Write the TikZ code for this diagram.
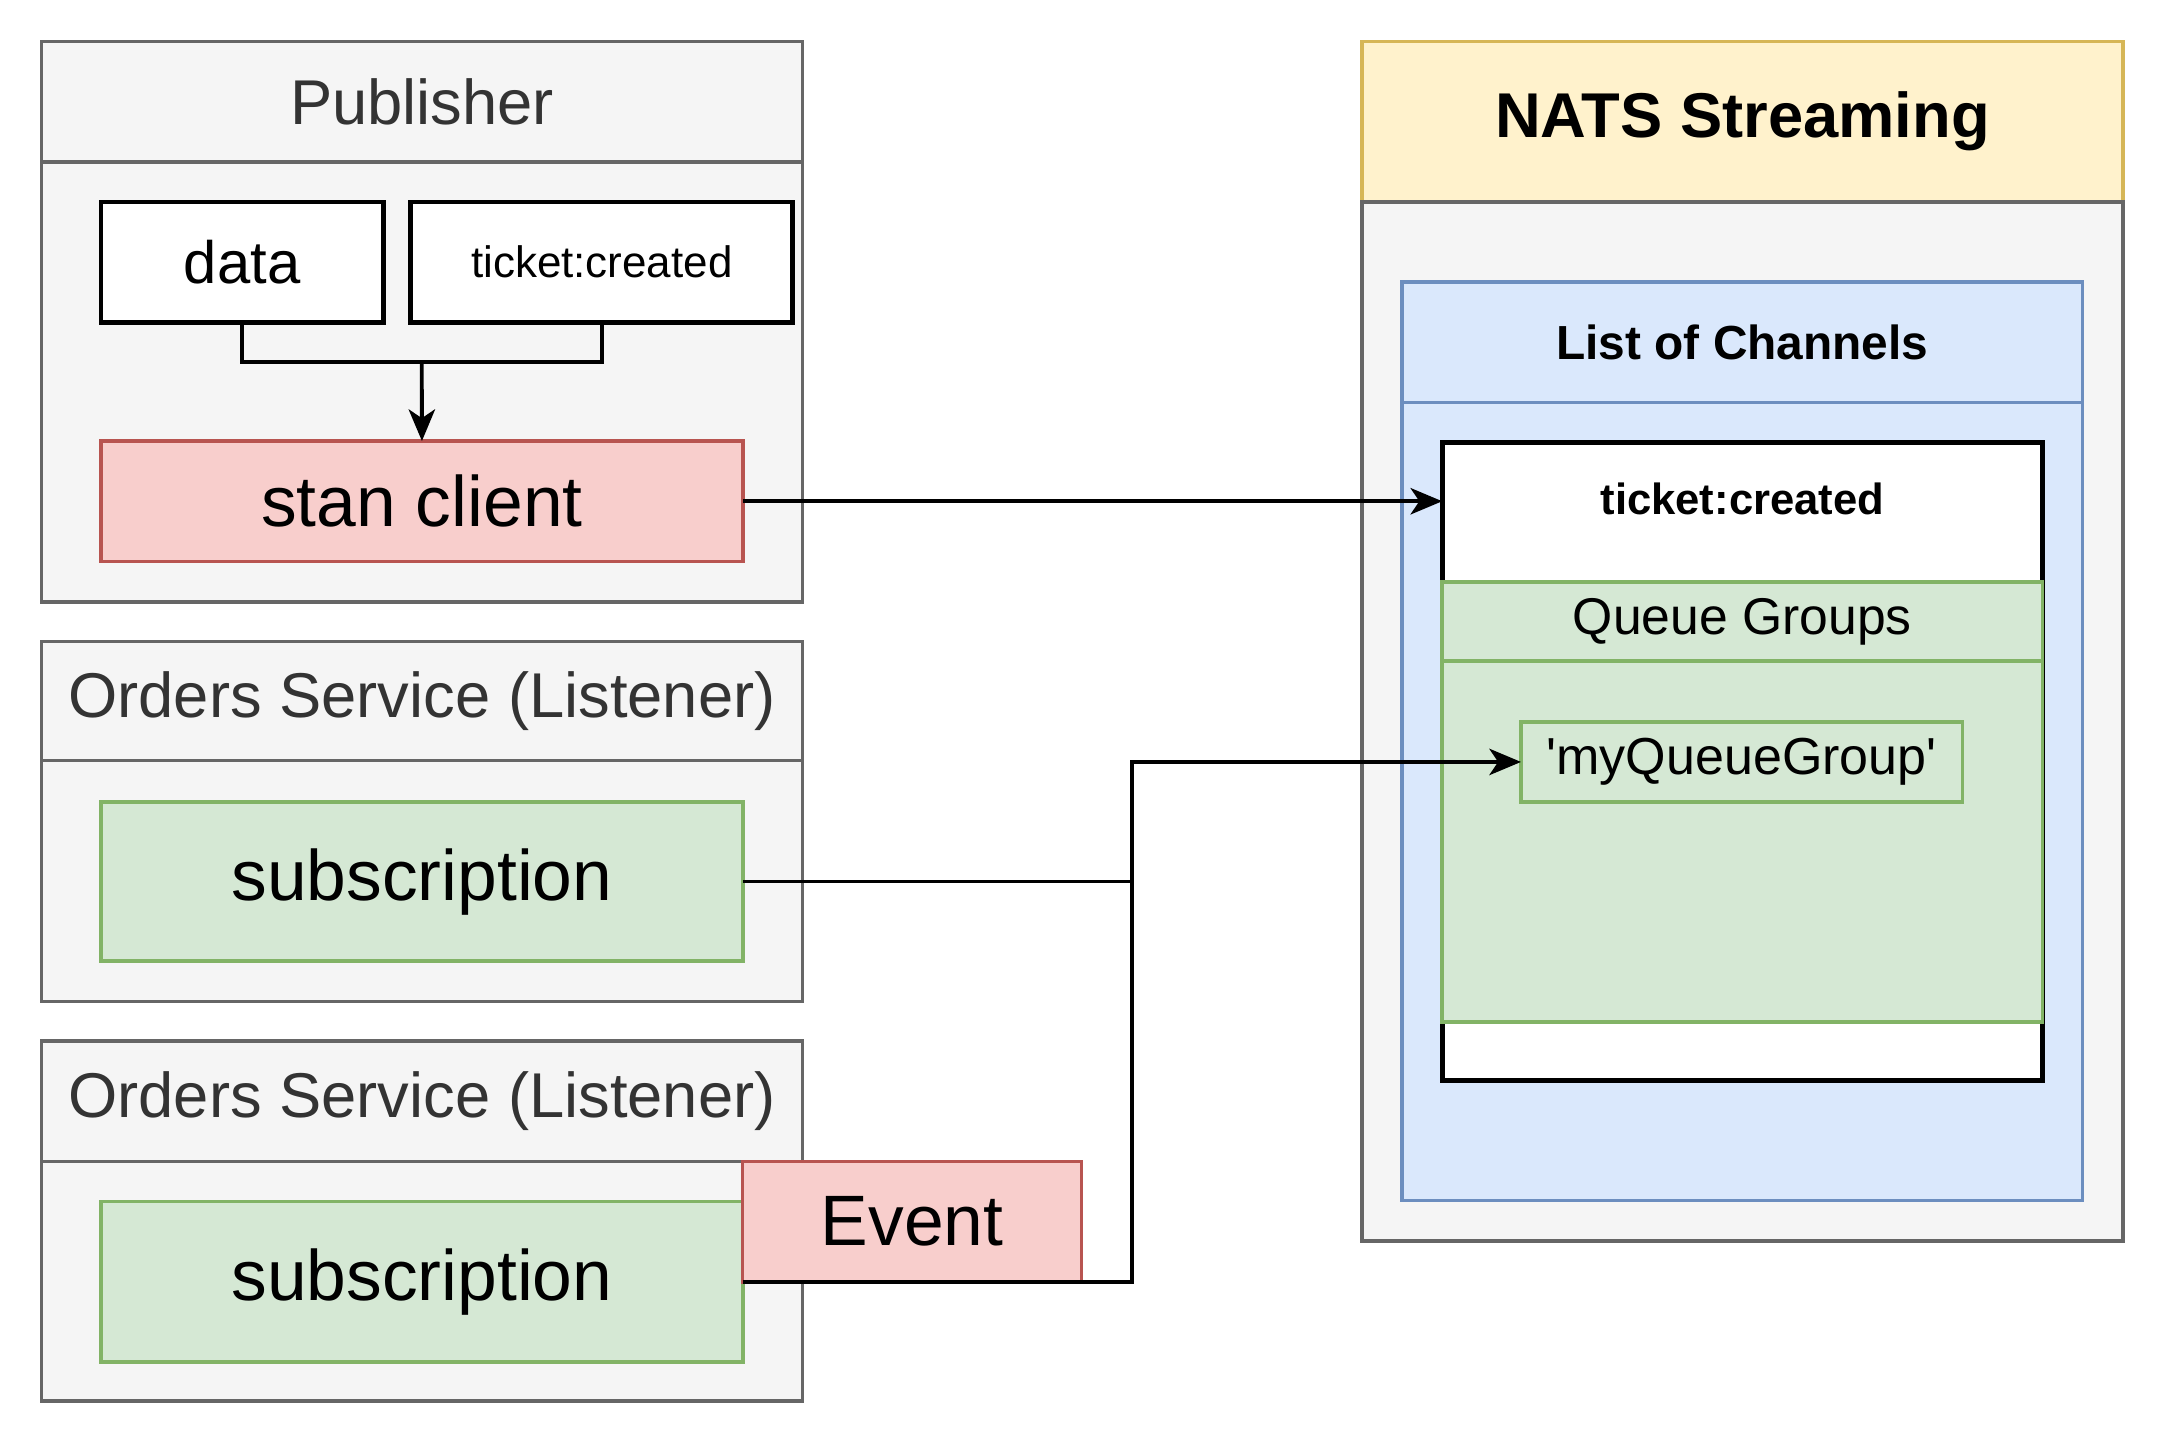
\documentclass[tikz,border=0pt]{standalone}
\usepackage{fontspec}
\setmainfont{Liberation Sans}
\usetikzlibrary{arrows.meta,positioning}
\definecolor{laneFill}{HTML}{F5F5F5}
\definecolor{laneLine}{HTML}{666666}
\definecolor{laneText}{HTML}{333333}
\definecolor{redFill}{HTML}{F8CECC}
\definecolor{redLine}{HTML}{B85450}
\definecolor{greenFill}{HTML}{D5E8D4}
\definecolor{greenLine}{HTML}{82B366}
\definecolor{blueFill}{HTML}{DAE8FC}
\definecolor{blueLine}{HTML}{6C8EBF}
\definecolor{yellowFill}{HTML}{FFF2CC}
\definecolor{yellowLine}{HTML}{D6B656}
\begin{document}
\begin{tikzpicture}[x=0.01cm,y=-0.01cm,
	every node/.style={inner sep=0pt, outer sep=0pt, line width=1pt},
	lane/.style={draw=laneLine, fill=laneFill, text=laneText, minimum width=7.605cm, font=\fontsize{18}{20}\selectfont},
	whitebox/.style={draw=black, fill=white, line width=1.4pt, minimum height=1.2cm},
	redbox/.style={draw=redLine, fill=redFill, font=\fontsize{20.3}{22}\selectfont},
	greenbox/.style={draw=greenLine, fill=greenFill},
	wire/.style={line width=1.1pt},
	link/.style={wire, -{Stealth[length=9pt,width=7.5pt,inset=2.5pt]}}]
	\useasboundingbox (0,0) rectangle (2168,1444);

	% publisher
	\node[lane, anchor=north west, minimum height=1.203cm] (pubhead) at (41.5,41.5) {Publisher};
	\node[lane, below=0pt of pubhead, minimum height=4.397cm] (pub) {};
	\node[whitebox, anchor=north west, minimum width=2.82cm, font=\fontsize{17}{19}\selectfont] (data) at (101,202) {data};
	\node[whitebox, right=0.277cm of data, minimum width=3.816cm, font=\fontsize{12.5}{14}\selectfont] (tkt) {ticket:created};
	\node[redbox, anchor=north west, minimum width=6.415cm, minimum height=1.204cm] (stan) at (101,441) {stan client};

	% listeners
	\node[lane, anchor=north west, minimum height=1.19cm] (ordhead1) at (41.5,641.6) {Orders Service (Listener)};
	\node[lane, below=0pt of ordhead1, minimum height=2.405cm] (ord1) {};
	\node[greenbox, anchor=north west, minimum width=6.415cm, minimum height=1.59cm, font=\fontsize{20.3}{22}\selectfont] (sub1) at (101,802) {subscription};

	\node[lane, anchor=north west, minimum height=1.205cm] (ordhead2) at (41.5,1041) {Orders Service (Listener)};
	\node[lane, below=0pt of ordhead2, minimum height=2.392cm] (ord2) {};
	\node[greenbox, anchor=north west, minimum width=6.415cm, minimum height=1.604cm, font=\fontsize{20.3}{22}\selectfont] (sub2) at (101,1201.6) {subscription};
	\node[redbox, anchor=north west, minimum width=3.388cm, minimum height=1.203cm] (event) at (742.5,1161.5) {Event};

	% nats streaming
	\node[draw=yellowLine, fill=yellowFill, anchor=north west, minimum width=7.604cm, minimum height=1.604cm, font=\bfseries\fontsize{18}{20}\selectfont] (natshead) at (1362,41.5) {NATS Streaming};
	\node[lane, below=0pt of natshead, minimum width=7.604cm, minimum height=10.384cm] (nats) {};
	\node[draw=blueLine, fill=blueFill, anchor=north west, minimum width=6.803cm, minimum height=1.204cm, font=\bfseries\fontsize{13.6}{15}\selectfont] (listhead) at (1402,282) {List of Channels};
	\node[draw=blueLine, fill=blueFill, below=0pt of listhead, minimum width=6.803cm, minimum height=7.976cm] (list) {};
	\node[whitebox, anchor=north west, minimum width=6cm, minimum height=6.374cm] (chan) at (1442.2,442.5) {};
	\node[font=\bfseries\fontsize{12.4}{14}\selectfont, below=0.4cm of chan.north] (chantitle) {ticket:created};
	\node[greenbox, anchor=north west, minimum width=6cm, minimum height=0.79cm, font=\fontsize{14.7}{16}\selectfont] (qhead) at (1442.2,582) {Queue Groups};
	\node[greenbox, below=0pt of qhead, minimum width=6cm, minimum height=3.608cm] (queue) {};
	\node[greenbox, anchor=north west, minimum width=4.41cm, minimum height=0.802cm, font=\fontsize{14.8}{16}\selectfont] (qg) at (1521,721.8) {\textquotesingle myQueueGroup\textquotesingle};

	% connectors
	\coordinate (join) at (421.75,362.3);
	\draw[wire] (data.south) |- (join) -| (tkt.south);
	\draw[link] (join) -- (stan.north);
	\draw[link] (stan.east) -- (stan.east -| chan.west);
	\coordinate (bus) at ([xshift=-3.886cm]qg.west);
	\draw[wire] (sub1.east) -- (sub1.east -| bus);
	\draw[link] (sub2.east) -| (bus) -- (qg.west);
\end{tikzpicture}
\end{document}
